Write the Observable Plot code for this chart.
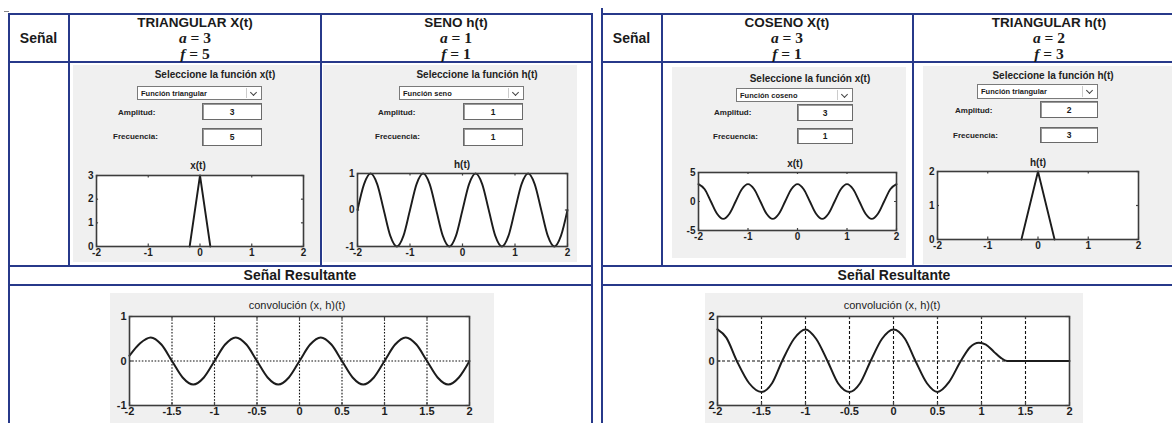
<!DOCTYPE html>
<html>
<head>
<meta charset="utf-8">
<script src="https://cdn.jsdelivr.net/npm/d3@7"></script>
<script src="https://cdn.jsdelivr.net/npm/@observablehq/plot@0.6"></script>
<style>
  html, body { margin: 0; padding: 0; background: #fff; }
  #root { position: relative; width: 1172px; height: 423px; overflow: hidden; font-family: "Liberation Sans", Arial, sans-serif; color: #1a1a1a; }
  .ln { position: absolute; background: #27398a; }
  .gp { position: absolute; background: #f0f0f0; }
  .tx { position: absolute; white-space: nowrap; transform: translate(-50%, -50%); }
  .lt { position: absolute; white-space: nowrap; transform: translate(0, -50%); font-size: 8px; font-weight: bold; color: #222; }
  .box { position: absolute; background: #fff; border: 1px solid #6a6a6a; box-shadow: inset 1px 1px 0 #999; display: flex; align-items: center; justify-content: center; font-size: 8.5px; font-weight: bold; box-sizing: border-box; }
  .dd { position: absolute; background: #fff; border: 1px solid #7a7a7a; box-sizing: border-box; font-size: 7.5px; font-weight: bold; display: flex; align-items: center; padding-left: 3px; }
  .chev { position: absolute; right: 5px; top: 3px; width: 4px; height: 4px; border-right: 1.3px solid #444; border-bottom: 1.3px solid #444; transform: rotate(45deg); }
  .sep { position: absolute; right: 14px; top: 1px; bottom: 1px; width: 1px; background: #ccc; }
  .math { font-family: "Liberation Serif", "DejaVu Serif", serif; font-weight: bold; font-size: 15.5px; }
  .math i { font-style: italic; }
  svg.pl { position: absolute; overflow: visible; }
</style>
</head>
<body>
<div id="root"></div>
<script>
// ---------------- data ----------------
const signalNames = ["TRIANGULAR X(t)", "SENO h(t)", "COSENO X(t)", "TRIANGULAR h(t)"];
const amplitudes = [3, 1, 3, 2];
const frequencies = [5, 1, 1, 3];
const dropdownNames = ["Función triangular", "Función seno", "Función coseno", "Función triangular"];
const panelTitles = ["Seleccione la función x(t)", "Seleccione la función h(t)", "Seleccione la función x(t)", "Seleccione la función h(t)"];
const plotTitles = ["x(t)", "h(t)", "x(t)", "h(t)"];
const xTicksSmall = [-2, -1, 0, 1, 2];
const xTicksConv = [-2, -1.5, -1, -0.5, 0, 0.5, 1, 1.5, 2];

// x(t) triangular (left)
const triXt = [-0.2, 0, 0.2];
const triXv = [0, 3, 0];
// h(t) seno (left)
const senoT = [-2, -1.875, -1.75, -1.625, -1.5, -1.375, -1.25, -1.125, -1, -0.875, -0.75, -0.625, -0.5, -0.375, -0.25, -0.125, 0, 0.125, 0.25, 0.375, 0.5, 0.625, 0.75, 0.875, 1, 1.125, 1.25, 1.375, 1.5, 1.625, 1.75, 1.875, 2];
const senoV = [0, 0.71, 1, 0.71, 0, -0.71, -1, -0.71, 0, 0.71, 1, 0.71, 0, -0.71, -1, -0.71, 0, 0.71, 1, 0.71, 0, -0.71, -1, -0.71, 0, 0.71, 1, 0.71, 0, -0.71, -1, -0.71, 0];
// x(t) coseno (right)
const cosT = senoT;
const cosV = [3, 2.12, 0, -2.12, -3, -2.12, 0, 2.12, 3, 2.12, 0, -2.12, -3, -2.12, 0, 2.12, 3, 2.12, 0, -2.12, -3, -2.12, 0, 2.12, 3, 2.12, 0, -2.12, -3, -2.12, 0, 2.12, 3];
// h(t) triangular (right)
const triHt = [-0.33, 0, 0.33];
const triHv = [0, 2, 0];
// convolution left
const convLT = senoT;
const convLV = [0.12, 0.4, 0.53, 0.37, 0, -0.37, -0.53, -0.37, 0, 0.37, 0.53, 0.37, 0, -0.37, -0.53, -0.37, 0, 0.37, 0.53, 0.37, 0, -0.37, -0.53, -0.37, 0, 0.37, 0.53, 0.37, 0, -0.37, -0.53, -0.37, 0];
// convolution right
const convRT = [-2, -1.9, -1.78, -1.64, -1.5, -1.38, -1.265, -1.13, -1, -0.88, -0.75, -0.63, -0.5, -0.38, -0.26, -0.13, 0, 0.13, 0.25, 0.38, 0.5, 0.63, 0.765, 0.87, 0.97, 1.05, 1.14, 1.22, 1.29, 1.5, 1.75, 2];
const convRV = [1.42, 1.05, 0, -1.0, -1.39, -1.0, 0, 1.0, 1.42, 1.0, 0, -1.0, -1.39, -1.0, 0, 1.0, 1.42, 1.0, 0, -1.0, -1.39, -0.95, 0, 0.62, 0.82, 0.74, 0.42, 0.14, 0, 0, 0, 0];

// ---------------- layout helpers ----------------
const root = document.getElementById("root");
function el(cls, css, html) {
  const d = document.createElement("div");
  d.className = cls;
  Object.assign(d.style, css);
  if (html !== undefined) d.innerHTML = html;
  root.appendChild(d);
  return d;
}
const px = v => v + "px";
function hline(x1, x2, y) { el("ln", {left: px(x1), top: px(y), width: px(x2 - x1), height: "2px"}); }
function vline(x, y1, y2) { el("ln", {left: px(x), top: px(y1), width: "2px", height: px(y2 - y1)}); }
function text(t, x, y, css) { return el("tx", Object.assign({left: px(x), top: px(y)}, css || {}), t); }

// tables
const tables = [
  {x0: 8, x1: 592, col: 68, split: 320},
  {x0: 601, x1: 1190, col: 661, split: 912}
];
tables.forEach(tb => {
  hline(tb.x0, tb.x1, 13);
  hline(tb.x0, tb.x1, 61);
  hline(tb.x0, tb.x1, 265);
  hline(tb.x0, tb.x1, 284);
  vline(tb.x0, 13, 423);
  vline(tb.x1 - 1, 13, 423);
  vline(tb.col, 13, 266);
  vline(tb.split, 13, 266);
});
vline(601, 8, 14);
el("ln", {left: "4px", top: "11px", width: "5px", height: "1px", background: "#888"});

// headers
const headerCenters = [195, 456, 787, 1049];
text("Señal", 38.5, 38, {fontWeight: "bold", fontSize: "14px"});
text("Señal", 631.5, 38, {fontWeight: "bold", fontSize: "14px"});
signalNames.forEach((n, i) => {
  const cx = headerCenters[i];
  text(n, cx, 21.5, {fontWeight: "bold", fontSize: "13.5px"});
  text(`<span class="math"><i>a</i> = ${amplitudes[i]}</span>`, cx, 38);
  text(`<span class="math"><i>f</i> = ${frequencies[i]}</span>`, cx, 54);
});
text("Señal Resultante", 300, 275, {fontWeight: "bold", fontSize: "14px"});
text("Señal Resultante", 894, 275, {fontWeight: "bold", fontSize: "14px"});

// GUI panels
const panels = [
  {gx: 73, gy: 65, gw: 247, gh: 197, tx: 215, ty: 74, dd: [137, 86, 125, 14], lab: [118, 112, 113, 136], bx: [202, 103, 60, 17, 128, 18], pt: [198, 165]},
  {gx: 323, gy: 65, gw: 254, gh: 197, tx: 477, ty: 74, dd: [399, 86, 125, 14], lab: [378, 112, 375, 136], bx: [463, 103, 60, 17, 128, 18], pt: [462, 164]},
  {gx: 672, gy: 67, gw: 234, gh: 191, tx: 810, ty: 78, dd: [736, 88, 117, 14], lab: [714, 112, 713, 136], bx: [797, 104, 56, 17, 128, 16], pt: [795, 163]},
  {gx: 923, gy: 66, gw: 260, gh: 198, tx: 1053, ty: 75, dd: [977, 84, 121, 15], lab: [955, 110, 953, 135], bx: [1040, 101, 58, 17, 127, 16], pt: [1038, 162]}
];
panels.forEach((p, i) => {
  el("gp", {left: px(p.gx), top: px(p.gy), width: px(p.gw), height: px(p.gh)});
  text(panelTitles[i], p.tx, p.ty, {fontWeight: "bold", fontSize: "10px", color: "#222"});
  const d = el("dd", {left: px(p.dd[0]), top: px(p.dd[1]), width: px(p.dd[2]), height: px(p.dd[3])}, dropdownNames[i]);
  const c = document.createElement("div"); c.className = "chev"; d.appendChild(c);
  const s = document.createElement("div"); s.className = "sep"; d.appendChild(s);
  el("lt", {left: px(p.lab[0]), top: px(p.lab[1])}, "Amplitud:");
  el("lt", {left: px(p.lab[2]), top: px(p.lab[3])}, "Frecuencia:");
  el("box", {left: px(p.bx[0]), top: px(p.bx[1]), width: px(p.bx[2]), height: px(p.bx[3])}, String(amplitudes[i]));
  el("box", {left: px(p.bx[0]), top: px(p.bx[4]), width: px(p.bx[2]), height: px(p.bx[5])}, String(frequencies[i]));
  text(plotTitles[i], p.pt[0], p.pt[1], {fontWeight: "bold", fontSize: "10px", color: "#222"});
});

// convolution panels
el("gp", {left: "110px", top: "293px", width: "384px", height: "140px"});
el("gp", {left: "705px", top: "293px", width: "378px", height: "140px"});
text("convolución (x, h)(t)", 297, 305, {fontSize: "11px", color: "#222"});
text("convolución (x, h)(t)", 892, 305, {fontSize: "11px", color: "#222"});

// ---------------- plots ----------------
function makePlot(o) {
  const ml = o.ml ?? 20, mr = 8, mt = 4, mb = o.mb ?? 14;
  const data = o.t.map((x, i) => ({t: x, v: o.v[i]}));
  const [y0, y1] = o.yDomain;
  const dy = (y1 - y0) * 0.035, dx = 4 * 0.01;
  const xt = o.xTicks;
  const marks = [Plot.frame({fill: "white", stroke: null})];
  if (o.grid) {
    marks.push(Plot.ruleX(xt.slice(1, -1), {stroke: "#111", strokeWidth: 1.1, strokeDasharray: o.dash}));
    marks.push(Plot.ruleY([0], {stroke: "#111", strokeWidth: 1.1, strokeDasharray: o.dash}));
  }
  marks.push(
    Plot.ruleX(xt, {x: d => d, y1: y0, y2: y0 + dy, stroke: "#444", strokeWidth: 1.2}),
    Plot.ruleX(xt, {x: d => d, y1: y1, y2: y1 - dy, stroke: "#444", strokeWidth: 1.2}),
    Plot.ruleY(o.yTicks, {y: d => d, x1: -2, x2: -2 + dx, stroke: "#444", strokeWidth: 1.2}),
    Plot.ruleY(o.yTicks, {y: d => d, x1: 2, x2: 2 - dx, stroke: "#444", strokeWidth: 1.2}),
    Plot.line(data, {x: "t", y: "v", curve: o.curve || "linear", stroke: "#1c1c1c", strokeWidth: o.sw || 1.9}),
    Plot.frame({stroke: "#3c3c3c", strokeWidth: 1.6})
  );
  const svg = Plot.plot({
    width: o.w + ml + mr, height: o.h + mt + mb,
    marginLeft: ml, marginRight: mr, marginTop: mt, marginBottom: mb,
    x: {domain: [-2, 2], ticks: xt, tickSize: 0, tickPadding: 2, label: null, tickFormat: d => String(d)},
    y: {domain: o.yDomain, ticks: o.yTicks, tickSize: 0, tickPadding: 3, label: null, tickFormat: o.yFmt || (d => String(d))},
    style: {background: "transparent", fontFamily: "Liberation Sans, Arial, sans-serif", fontSize: (o.fs || 10) + "px", fontWeight: "bold", color: "#1e1e1e", overflow: "visible"},
    marks
  });
  svg.classList.add("pl");
  svg.style.left = px(o.left - ml);
  svg.style.top = px(o.top - mt);
  root.appendChild(svg);
}

makePlot({left: 96, top: 175, w: 207, h: 71, t: triXt, v: triXv, yDomain: [0, 3], yTicks: [0, 1, 2, 3], xTicks: xTicksSmall});
makePlot({left: 357, top: 173, w: 210, h: 73, t: senoT, v: senoV, yDomain: [-1, 1], yTicks: [-1, 0, 1], xTicks: xTicksSmall, curve: "monotone-x"});
makePlot({left: 698, top: 172, w: 198, h: 58, t: cosT, v: cosV, yDomain: [-5, 5], yTicks: [-5, 0, 5], xTicks: xTicksSmall, curve: "monotone-x"});
makePlot({left: 937, top: 171, w: 201, h: 68, t: triHt, v: triHv, yDomain: [0, 2], yTicks: [0, 1, 2], xTicks: xTicksSmall});
makePlot({left: 129, top: 316, w: 340, h: 89, t: convLT, v: convLV, yDomain: [-1, 1], yTicks: [-1, 0, 1], xTicks: xTicksConv, grid: true, dash: "1.6,1.6", curve: "monotone-x", fs: 11, mb: 16, sw: 2});
makePlot({left: 717, top: 316, w: 352, h: 89, t: convRT, v: convRV, yDomain: [-2, 2], yTicks: [-2, 0, 2], yFmt: d => String(Math.abs(d)), xTicks: xTicksConv, grid: true, dash: "3,2", curve: "monotone-x", fs: 11, mb: 16, sw: 2});
</script>
</body>
</html>
